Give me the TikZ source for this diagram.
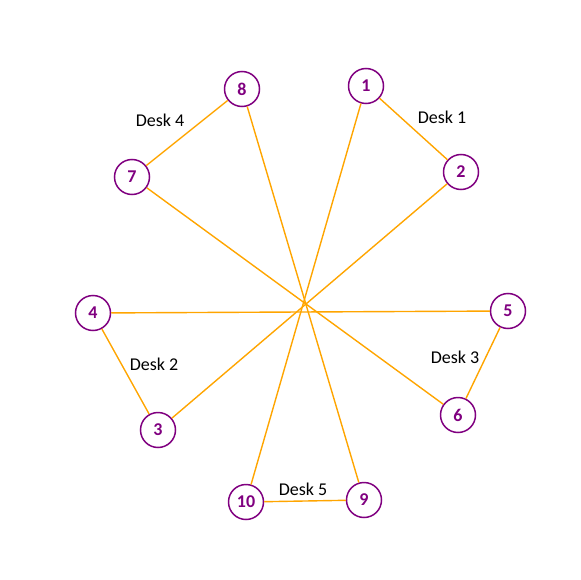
\documentclass[tikz,border=0pt]{standalone}
\usepackage{fontspec}
\setmainfont{Carlito}
\usepackage{tikz}
\usetikzlibrary{positioning}
\definecolor{seatpurple}{RGB}{128,0,128}
\definecolor{linkorange}{RGB}{255,165,0}
\tikzset{
  seat/.style={circle, draw=seatpurple, line width=1.5pt, fill=white, minimum size=35pt, inner sep=0pt,
    text=seatpurple, font=\fontsize{18}{20}\selectfont\bfseries},
  link/.style={draw=linkorange, line width=1.4pt},
  desklbl/.style={font=\fontsize{18}{20}\selectfont, text=black, inner sep=1pt},
}
\begin{document}
\begin{tikzpicture}[x=1pt,y=-1pt]
  \useasboundingbox (0,0) rectangle (580,580);
  \node[seat] (s1) at (366,86) {1};
  \node[seat] (s2) at (461,172) {2};
  \node[seat] (s3) at (158,430) {3};
  \node[seat] (s4) at (93,313) {4};
  \node[seat] (s5) at (508,311) {5};
  \node[seat] (s6) at (458,415) {6};
  \node[seat] (s7) at (132,177) {7};
  \node[seat] (s8) at (242,89) {8};
  \node[seat] (s9) at (364,500) {9};
  \node[seat] (s10) at (246,502) {10};
  % desks and cross lines
  \foreach \a/\b in {s1/s2,s8/s7,s4/s3,s5/s6,s10/s9,s1/s10,s2/s3,s4/s5,s7/s6,s8/s9}{\draw[link] (\a) -- (\b);}
  \node[desklbl] (d1) at (442,117) {Desk 1};
  \node[desklbl] (d4) at (160,120) {Desk 4};
  \node[desklbl] (d2) at (154,364) {Desk 2};
  \node[desklbl] (d3) at (455,357) {Desk 3};
  \node[desklbl] (d5) at (303,489) {Desk 5};
\end{tikzpicture}
\end{document}
